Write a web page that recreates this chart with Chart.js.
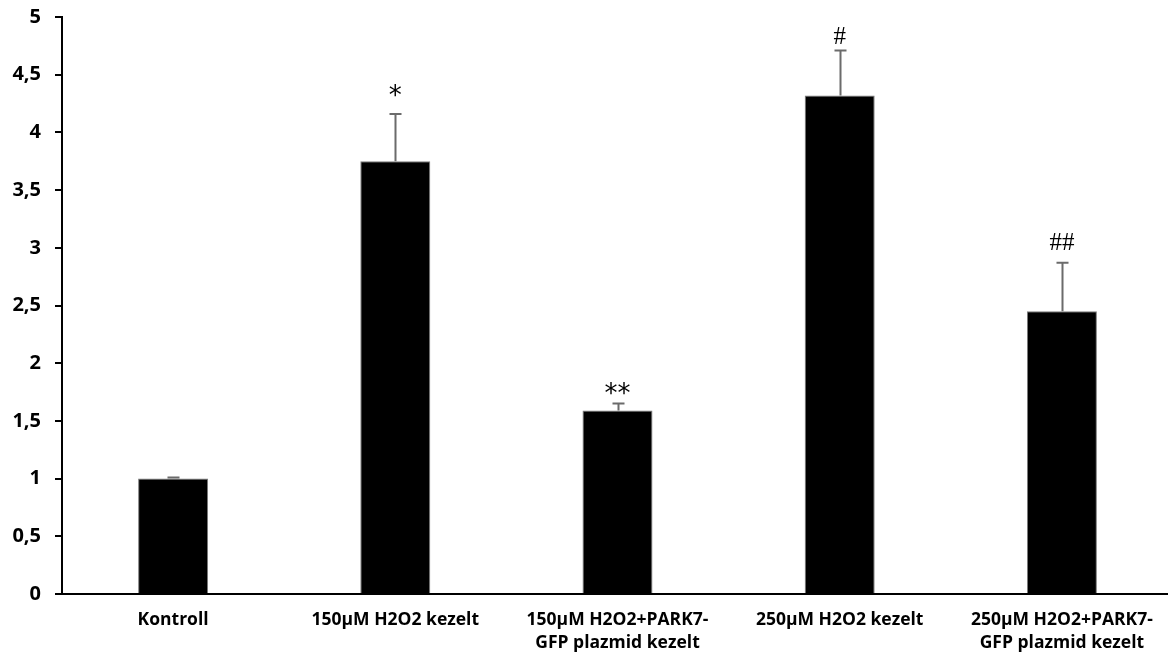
<!DOCTYPE html>
<html><head><meta charset="utf-8">
<script src="https://cdn.jsdelivr.net/npm/chart.js@4.4.1/dist/chart.umd.min.js"></script>
<style>html,body{margin:0;padding:0;background:#fff;overflow:hidden;width:1168px;height:659px}#wrap{width:1173px;height:659px;position:relative}</style>
</head><body><div id="wrap"><canvas id="c"></canvas></div>
<script>
const categories = [
  ["Kontroll"],
  ["150\u00B5M H2O2 kezelt"],
  ["150\u00B5M H2O2+PARK7-", "GFP plazmid kezelt"],
  ["250\u00B5M H2O2 kezelt"],
  ["250\u00B5M H2O2+PARK7-", "GFP plazmid kezelt"]
];
const values = [1.0, 3.75, 1.59, 4.32, 2.45];
const errors = [0.01, 0.41, 0.06, 0.39, 0.42];
const marks = ["", "*", "**", "#", "##"];
const markLevel = [null, 4.25, 1.66, 4.77, 2.98];
const yTicks = [0, 0.5, 1, 1.5, 2, 2.5, 3, 3.5, 4, 4.5, 5];

const errPlugin = {
  id: 'err',
  afterDatasetsDraw(chart) {
    const ctx = chart.ctx, y = chart.scales.y;
    const meta = chart.getDatasetMeta(0);
    ctx.save();
    meta.data.forEach((bar, i) => {
      const x = Math.round(bar.x) + 0.5;
      const y0 = y.getPixelForValue(values[i]);
      const y1 = y.getPixelForValue(values[i] + errors[i]);
      ctx.strokeStyle = '#6b6b6b';
      ctx.lineWidth = 2;
      ctx.beginPath();
      ctx.moveTo(x, y0); ctx.lineTo(x, y1);
      ctx.moveTo(x - 6, y1); ctx.lineTo(x + 6, y1);
      ctx.stroke();
      if (marks[i]) {
        ctx.fillStyle = '#000';
        ctx.font = marks[i].includes('*') ? '26px "DejaVu Sans", sans-serif' : '25px "Liberation Serif", serif';
        ctx.textAlign = 'center';
        ctx.textBaseline = 'alphabetic';
        ctx.fillText(marks[i], bar.x, y.getPixelForValue(markLevel[i]));
      }
    });
    ctx.restore();
  }
};

new Chart(document.getElementById('c'), {
  type: 'bar',
  data: {
    labels: categories,
    datasets: [{
      data: values,
      backgroundColor: '#000',
      borderColor: '#7a7a7a',
      borderWidth: 1,
      barPercentage: 0.315,
      categoryPercentage: 1
    }]
  },
  options: {
    responsive: true,
    maintainAspectRatio: false,
    animation: false,
    layout: { padding: { top: 17, right: 0, left: 0, bottom: 0 } },
    plugins: { legend: { display: false }, tooltip: { enabled: false } },
    scales: {
      x: {
        grid: { display: false },
        border: { color: '#000', width: 2 },
        ticks: {
          color: '#000', padding: 7, maxRotation: 0, autoSkip: false,
          font: { family: '"Open Sans", sans-serif', size: 17.5, weight: 'bold', lineHeight: 1.31 }
        },
        afterFit(s) { s.height = 65; s.paddingLeft = 0; s.paddingRight = 0; }
      },
      y: {
        min: 0, max: 5,
        afterBuildTicks(s) { s.ticks = yTicks.map(v => ({ value: v })); },
        grid: { drawOnChartArea: false, color: '#000', lineWidth: 2, tickLength: 7 },
        border: { color: '#000', width: 2 },
        ticks: {
          color: '#000', padding: 14,
          font: { family: '"Open Sans", sans-serif', size: 20, weight: 'bold' },
          callback: v => String(v).replace('.', ',')
        },
        afterFit(s) { s.width = 62; s.paddingTop = 0; s.paddingBottom = 0; }
      }
    }
  },
  plugins: [errPlugin]
});
</script></body></html>
